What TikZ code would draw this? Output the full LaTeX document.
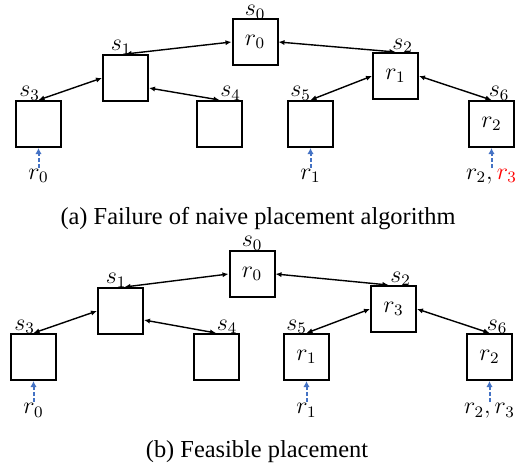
\documentclass[tikz,border=0pt]{standalone}
\usepackage{fontspec}
\setmainfont{Liberation Serif}
\usetikzlibrary{arrows.meta,calc}
\definecolor{reqblue}{RGB}{68,114,196}
\begin{document}
\begin{tikzpicture}[x=0.5pt,y=-0.5pt,
  box/.style={draw,line width=1pt,minimum width=22.5pt,minimum height=23pt,inner sep=0pt,font=\fontsize{12}{14}\selectfont},
  lab/.style={anchor=base west,inner sep=0pt,font=\fontsize{12}{14}\selectfont},
  con/.style={line width=0.7pt,{Latex[length=3pt,width=2.6pt]}-{Latex[length=3pt,width=2.6pt]}},
  req/.style={draw=reqblue,line width=1pt,dash pattern=on 2pt off 1pt,-{Latex[length=3pt,width=3.2pt]}},
  rl/.style={anchor=base,inner sep=0pt,font=\fontsize{12}{14}\selectfont},
  captext/.style={anchor=base,inner sep=0pt,font=\fontsize{12.2}{14}\selectfont}]
\useasboundingbox (0,0) rectangle (521,466);

% ---------- panel (a) ----------
\node[box] (a0) at (255,42) {$r_0$};
\node[box] (a1) at (125.5,78) {};
\node[box] (a2) at (395.5,76) {$r_1$};
\node[box] (a3) at (38.5,124) {};
\node[box] (a4) at (219.5,124) {};
\node[box] (a5) at (310.5,124) {};
\node[box] (a6) at (491.5,124) {$r_2$};

\node[lab] (la0) at ($(a0.north west)+(13,-2.5)$) {$s_0$};
\node[lab] (la1) at ($(a1.north west)+(8.5,-3)$) {$s_1$};
\node[lab] (la2) at ($(a2.north west)+(20,-3)$) {$s_2$};
\node[lab] (la3) at ($(a3.north west)+(4,-3)$) {$s_3$};
\node[lab] (la4) at ($(a4.north west)+(24,-3)$) {$s_4$};
\node[lab] (la5) at ($(a5.north west)+(3,-3)$) {$s_5$};
\node[lab] (la6) at ($(a6.north west)+(20.5,-3)$) {$s_6$};

\draw[con] (a0.west) -- (a1.north);
\draw[con] (a0.east) -- (a2.north);
\draw[con] (a1.west) -- (a3.north);
\draw[con] ([yshift=-5pt]a1.east) -- (a4.north);
\draw[con] (a2.west) -- (a5.north);
\draw[con] (a2.east) -- (a6.north);

\node[rl] (ra3) at ($(a3.south)+(0,31)$) {$r_0$};
\node[rl] (ra5) at ($(a5.south)+(0,31)$) {$r_1$};
\node[rl] (ra6) at ($(a6.south)+(0,31)$) {$r_2,\textcolor{red}{r_3}$};
\coordinate (qa3) at ($(a3.south)+(0,20)$);
\coordinate (qa5) at ($(a5.south)+(0,20)$);
\coordinate (qa6) at ($(a6.south)+(0,20)$);
\draw[req] (qa3) -- (a3.south);
\draw[req] (qa5) -- (a5.south);
\draw[req] (qa6) -- (a6.south);

\node[captext] (capa) at (258,224) {(a) Failure of naive placement algorithm};

% ---------- panel (b) ----------
\node[box] (b0) at (252,274) {$r_0$};
\node[box] (b1) at (120.5,311) {};
\node[box] (b2) at (393.5,309) {$r_3$};
\node[box] (b3) at (33.5,357) {};
\node[box] (b4) at (216,357) {};
\node[box] (b5) at (306.5,357) {$r_1$};
\node[box] (b6) at (489.5,357) {$r_2$};

\node[lab] (lb0) at ($(b0.north west)+(13,-3)$) {$s_0$};
\node[lab] (lb1) at ($(b1.north west)+(8.5,-3)$) {$s_1$};
\node[lab] (lb2) at ($(b2.north west)+(20,-3)$) {$s_2$};
\node[lab] (lb3) at ($(b3.north west)+(4,-3)$) {$s_3$};
\node[lab] (lb4) at ($(b4.north west)+(24,-3)$) {$s_4$};
\node[lab] (lb5) at ($(b5.north west)+(3,-3)$) {$s_5$};
\node[lab] (lb6) at ($(b6.north west)+(20.5,-3)$) {$s_6$};

\draw[con] (b0.west) -- ([xshift=2pt]b1.north);
\draw[con] (b0.east) -- ([xshift=-2.5pt]b2.north);
\draw[con] (b1.west) -- (b3.north);
\draw[con] ([yshift=-4.5pt]b1.east) -- (b4.north);
\draw[con] (b2.west) -- (b5.north);
\draw[con] (b2.east) -- (b6.north);

\node[rl] (rb3) at ($(b3.south)+(0,33)$) {$r_0$};
\node[rl] (rb5) at ($(b5.south)+(0,33)$) {$r_1$};
\node[rl] (rb6) at ($(b6.south)+(0,33)$) {$r_2,r_3$};
\coordinate (qb3) at ($(b3.south)+(0,21)$);
\coordinate (qb5) at ($(b5.south)+(0,21)$);
\coordinate (qb6) at ($(b6.south)+(0,21)$);
\draw[req] (qb3) -- (b3.south);
\draw[req] (qb5) -- (b5.south);
\draw[req] (qb6) -- (b6.south);

\node[captext] (capb) at (257,458) {(b) Feasible placement};
\end{tikzpicture}
\end{document}
